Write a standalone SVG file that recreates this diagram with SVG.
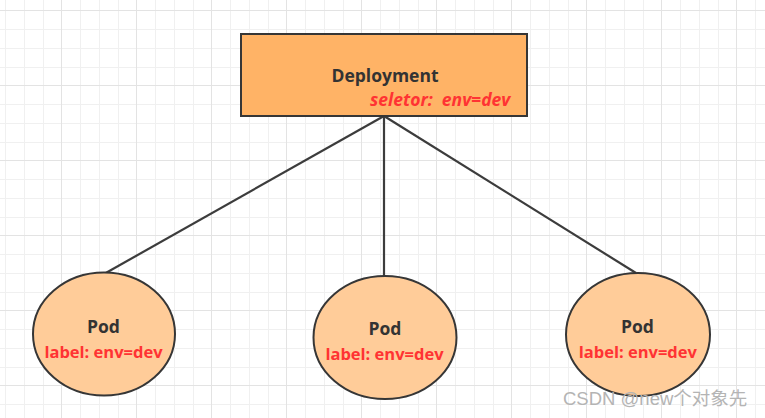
<svg xmlns="http://www.w3.org/2000/svg" width="765" height="418" viewBox="0 0 765 418">
  <defs>
    <pattern id="grid" patternUnits="userSpaceOnUse" x="61" y="10" width="75" height="75">
      <path d="M19.5 0V75M38.5 0V75M57.5 0V75M0 19.5H75M0 38.5H75M0 57.5H75" stroke="#f0f0f0" stroke-width="1" fill="none"/>
      <path d="M0.5 0V75M0 0.5H75" stroke="#e3e3e3" stroke-width="1" fill="none"/>
    </pattern>
  </defs>
  <style>
    .box { fill: #FFB366; stroke: #363636; stroke-width: 2; }
    .pod { fill: #FFCC99; stroke: #363636; stroke-width: 2; }
    .edge { stroke: #3c3c3c; stroke-width: 2.2; fill: none; }
    .title { font-family: "Open Sans", "Noto Sans", sans-serif; font-weight: bold; font-size: 17.5px; fill: #333333; text-anchor: middle; }
    .lbl { font-family: "Open Sans", "Noto Sans", sans-serif; font-weight: bold; font-size: 16.5px; fill: #FF3333; text-anchor: middle; }
    .sel { font-family: "Open Sans", "Noto Sans", sans-serif; font-weight: bold; font-style: italic; font-size: 17.5px; fill: #FF3333; white-space: pre; }
    .wm { font-family: "Liberation Sans", "Noto Sans CJK SC", sans-serif; font-size: 18.5px; fill: #b4b4b4; }
  </style>
  <rect width="765" height="418" fill="#ffffff"/>
  <rect width="765" height="418" fill="url(#grid)"/>

  <g id="connectors">
    <path class="edge" d="M384 116L104 274"/>
    <path class="edge" d="M384 116V277"/>
    <path class="edge" d="M384 116L636 273"/>
  </g>

  <g id="deployment">
    <rect class="box" x="241" y="34" width="286" height="82"/>
    <text class="title" x="385" y="82">Deployment</text>
    <text class="sel" x="370" y="106" xml:space="preserve">seletor:  env=dev</text>
  </g>

  <g id="pod1">
    <ellipse class="pod" cx="104" cy="334" rx="71" ry="61.5"/>
    <text class="title" x="103.5" y="333">Pod</text>
    <text class="lbl" x="103.5" y="358">label: env=dev</text>
  </g>

  <g id="pod2">
    <ellipse class="pod" cx="385" cy="337.5" rx="71.5" ry="61.5"/>
    <text class="title" x="385" y="335">Pod</text>
    <text class="lbl" x="384.5" y="360">label: env=dev</text>
  </g>

  <g id="pod3">
    <ellipse class="pod" cx="638" cy="334.5" rx="72" ry="61.5"/>
    <text class="title" x="637.5" y="333">Pod</text>
    <text class="lbl" x="637.8" y="358">label: env=dev</text>
  </g>

  <text class="wm" x="563" y="405">CSDN @new个对象先</text>
</svg>
